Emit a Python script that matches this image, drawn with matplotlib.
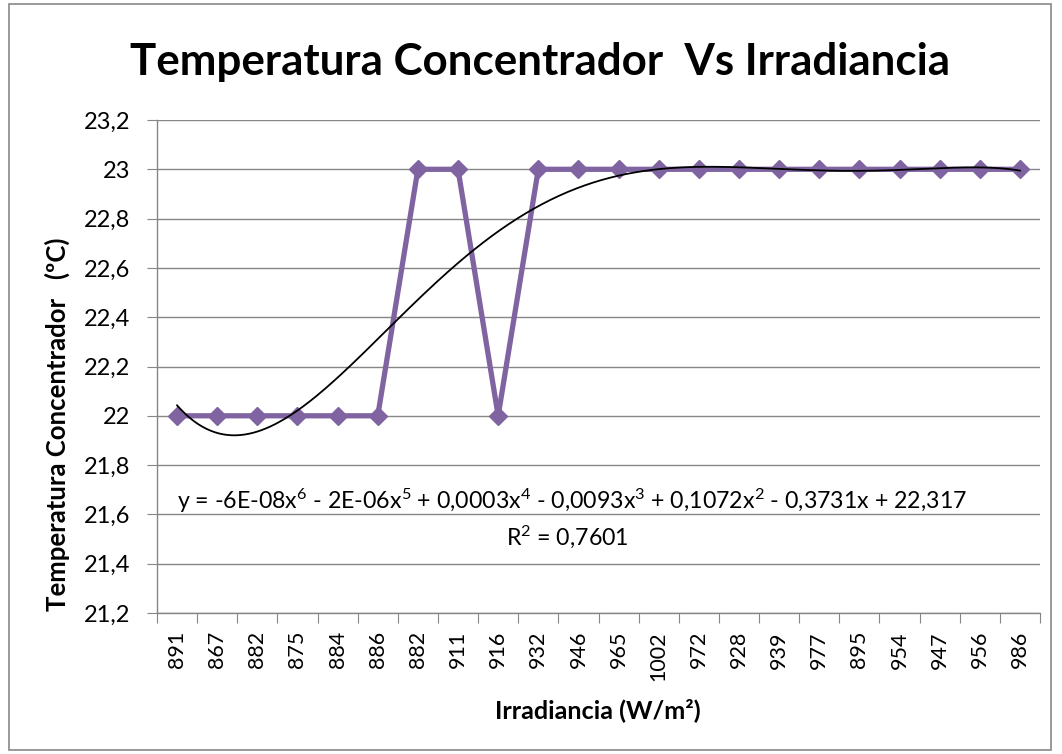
import numpy as np
import matplotlib
matplotlib.use("Agg")
import matplotlib.pyplot as plt
from matplotlib.patches import Rectangle

plt.rcParams['font.family'] = ['Lato', 'DejaVu Sans']
plt.rcParams['mathtext.default'] = 'regular'

categories = ["891", "867", "882", "875", "884", "886", "882", "911", "916", "932", "946",
              "965", "1002", "972", "928", "939", "977", "895", "954", "947", "956", "986"]
temperatures = [22, 22, 22, 22, 22, 22, 23, 23, 22, 23, 23,
                23, 23, 23, 23, 23, 23, 23, 23, 23, 23, 23]
y_ticks = [21.2, 21.4, 21.6, 21.8, 22.0, 22.2, 22.4, 22.6, 22.8, 23.0, 23.2]
y_tick_labels = ["21,2", "21,4", "21,6", "21,8", "22", "22,2", "22,4", "22,6", "22,8", "23", "23,2"]
title = "Temperatura Concentrador  Vs Irradiancia"
y_label = "Temperatura Concentrador   (ºC)"
x_label = "Irradiancia (W/m²)"
equation = "y = -6E-08x$^{6}$ - 2E-06x$^{5}$ + 0,0003x$^{4}$ - 0,0093x$^{3}$ + 0,1072x$^{2}$ - 0,3731x + 22,317"
r2_text = "R$^{2}$ = 0,7601"

W, H = 1062, 754
fig = plt.figure(figsize=(W / 100, H / 100), dpi=100)
fig.patches.append(Rectangle((9 / W, 4 / H), 1042 / W, 746 / H, transform=fig.transFigure,
                             fill=False, edgecolor='#888888', linewidth=1.2))

ax = fig.add_axes([157 / W, 1 - 613 / H, (1040 - 157) / W, (613 - 120) / H])
x = np.arange(1, len(categories) + 1)

grid_c = '#868686'
for yt in y_ticks:
    ax.axhline(yt, color=grid_c, linewidth=1.0, zorder=0)

ax.plot(x, temperatures, color='#8064A2', linewidth=3.8, marker='D', markersize=9.5,
        markerfacecolor='#8064A2', markeredgecolor='#8064A2', zorder=3)

coef = np.polyfit(x, temperatures, 6)
xs = np.linspace(1, len(categories), 400)
ax.plot(xs, np.polyval(coef, xs), color='black', linewidth=1.3, zorder=4)

ax.set_xlim(0.5, len(categories) + 0.5)
ax.set_ylim(21.2, 23.2)
ax.set_yticks(y_ticks)
ax.set_yticklabels(y_tick_labels, fontsize=17)
ax.set_xticks(np.arange(0.5, len(categories) + 1, 1))
ax.set_xticklabels([])
ax.set_xticks(x, minor=True)
ax.set_xticklabels(categories, minor=True, rotation=90, fontsize=15.5)
ax.tick_params(axis='x', which='major', length=7, color=grid_c, direction='out')
ax.tick_params(axis='x', which='minor', length=0, pad=13)
ax.tick_params(axis='y', length=7.5, color=grid_c, direction='out', pad=12)
for s in ['top', 'right']:
    ax.spines[s].set_visible(False)
for s in ['left', 'bottom']:
    ax.spines[s].set_color(grid_c)
    ax.spines[s].set_linewidth(1.0)

t1 = fig.text(540 / W, 1 - 62 / H, title, ha='center', va='center', fontsize=31, fontweight='bold')
t2 = fig.text(57 / W, 1 - 424 / H, y_label, ha='center', va='center', rotation=90,
              fontsize=18, fontweight='bold')
t3 = fig.text(598 / W, 1 - 710 / H, x_label, ha='center', va='center', fontsize=17, fontweight='bold')
t4 = fig.text(572 / W, 1 - 501 / H, equation, ha='center', va='center', fontsize=16)
t5 = fig.text(567 / W, 1 - 537 / H, r2_text, ha='center', va='center', fontsize=16)

# fit text sizes to the reference extents (pixels)
targets = [(t1, 823, 'w'), (t2, 376, 'h'), (t3, 206, 'w'), (t4, 791, 'w')]
renderer = fig.canvas.get_renderer()
for _ in range(3):
    for t, size, dim in targets:
        bb = t.get_window_extent(renderer)
        cur = bb.width if dim == 'w' else bb.height
        t.set_fontsize(t.get_fontsize() * size / cur)
t5.set_fontsize(t4.get_fontsize())

fig.savefig("out.png", dpi=100)
